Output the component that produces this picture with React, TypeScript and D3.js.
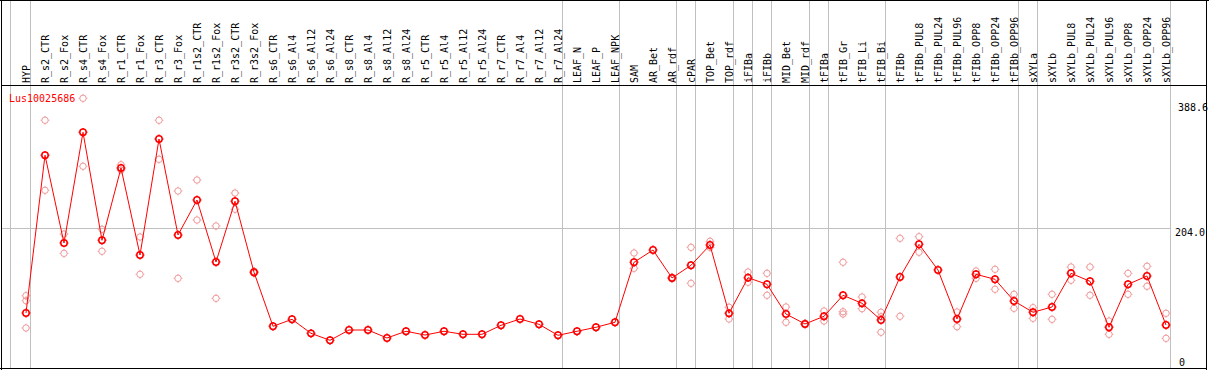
import React from "react";
import * as d3 from "d3";

const categories = [
  "HYP", "R_s2_CTR", "R_s2_Fox", "R_s4_CTR", "R_s4_Fox", "R_r1_CTR", "R_r1_Fox", "R_r3_CTR", "R_r3_Fox",
  "R_r1s2_CTR", "R_r1s2_Fox", "R_r3s2_CTR", "R_r3s2_Fox", "R_s6_CTR", "R_s6_Al4", "R_s6_Al12", "R_s6_Al24",
  "R_s8_CTR", "R_s8_Al4", "R_s8_Al12", "R_s8_Al24", "R_r5_CTR", "R_r5_Al4", "R_r5_Al12", "R_r5_Al24",
  "R_r7_CTR", "R_r7_Al4", "R_r7_Al12", "R_r7_Al24", "LEAF_N", "LEAF_P", "LEAF_NPK", "SAM", "AR_Bet", "AR_rdf",
  "cPAR", "TOP_Bet", "TOP_rdf", "iFIBa", "iFIBb", "MID_Bet", "MID_rdf", "tFIBa", "tFIB_Gr", "tFIB_Li", "tFIB_Bi",
  "tFIBb", "tFIBb_PUL8", "tFIBb_PUL24", "tFIBb_PUL96", "tFIBb_OPP8", "tFIBb_OPP24", "tFIBb_OPP96", "sXYLa",
  "sXYLb", "sXYLb_PUL8", "sXYLb_PUL24", "sXYLb_PUL96", "sXYLb_OPP8", "sXYLb_OPP24", "sXYLb_OPP96",
];

const meanValues = [
  83.8, 307.7, 183.2, 340.3, 187.0, 289.6, 166.1, 330.8, 194.5,
  244.2, 156.2, 242.4, 141.6, 64.9, 74.8, 54.9, 45.0,
  59.6, 59.6, 48.3, 57.8, 52.5, 57.8, 53.5, 53.5,
  66.3, 75.2, 67.7, 52.1, 57.8, 63.5, 70.6, 155.8, 173.2, 133.5,
  151.5, 180.3, 83.3, 133.9, 124.5, 82.3, 68.2, 79.1, 108.9, 97.5, 73.8,
  134.9, 181.3, 144.8, 75.2, 138.7, 131.6, 100.8, 84.8,
  92.3, 140.1, 128.8, 63.5, 124.5, 136.3, 66.7,
];

const replicates: number[][] = [
  [108.3, 101.2, 62.5], [357.4, 258.0], [195.9, 168.5], [388.6, 292.1], [202.6, 171.4], [294.3, 286.8], [191.7, 138.7], [357.4, 302.0], [257.0, 133.0],
  [272.6, 215.8], [207.3, 104.6], [254.1, 231.0], [143.0, 140.2], [], [], [], [],
  [], [], [], [], [], [], [], [],
  [], [], [], [], [], [], [], [169.0, 147.2], [], [134.5, 132.5],
  [177.0, 125.9], [185.6, 177.0], [91.9, 75.2], [142.0, 127.4], [140.1, 108.9], [92.3, 70.6], [68.9, 67.5], [86.6, 72.4], [155.8, 85.6, 82.3], [106.5, 89.9], [84.8, 56.4, 78.5],
  [189.8, 79.1], [192.1, 170.0], [], [85.2, 64.3], [143.4, 133.0], [145.8, 117.4], [110.3, 90.4], [91.3, 76.2],
  [110.3, 74.8], [149.1, 130.2], [149.1, 108.9], [72.4, 53.5], [140.1, 110.3], [150.1, 121.7], [83.3, 47.8],
];

const groupEnds = [0, 28, 31, 34, 35, 37, 38, 39, 41, 42, 45, 52, 53, 60];
const tickValues = [388.6, 204.0, 0];
const tickLabels = ["388.6", "204.0", "0"];
const seriesName = "Lus10025686";

const W = 1209;
const H = 370;
const FONT = "'DejaVu Sans Mono', monospace";

function Marker({ cx, cy, color, sw }: { cx: number; cy: number; color: string; sw: number }) {
  const r = 3.2;
  const t = 4.4;
  return (
    <g stroke={color} strokeWidth={sw} fill="none">
      <circle cx={cx} cy={cy} r={r} />
      <line x1={cx} y1={cy - r} x2={cx} y2={cy - t} />
      <line x1={cx} y1={cy + r} x2={cx} y2={cy + t} />
      <line x1={cx - r} y1={cy} x2={cx - t} y2={cy} />
      <line x1={cx + r} y1={cy} x2={cx + t} y2={cy} />
    </g>
  );
}

export default function App() {
  const x = d3.scaleLinear().domain([0, categories.length - 1]).range([26, 26 + 19 * (categories.length - 1)]);
  const y = d3.scaleLinear().domain([0, 388.6]).range([372, 98.3]);
  const line = d3
    .line<number>()
    .x((_, i) => x(i))
    .y((d) => y(d));

  const gridY = Math.round(y(204.0)) + 0.5;
  const labelX = [1178, 1175, 1179];

  return (
    <svg
      width={W}
      height={H}
      style={{ position: "absolute", left: 0, top: 0, background: "#fff" }}
      fontFamily={FONT}
      fontSize={10}
    >
      <rect x={0} y={0} width={W} height={H} fill="#fff" />
      <line x1={x(0) - 15.5} x2={x(0) - 15.5} y1={0} y2={369} stroke="#c0c0c0" />
      {groupEnds.map((g) => (
        <line key={g} x1={x(g) + 4.5} x2={x(g) + 4.5} y1={0} y2={369} stroke="#c0c0c0" />
      ))}
      <line x1={1} x2={x(categories.length - 1) + 4.5} y1={gridY} y2={gridY} stroke="#c0c0c0" />

      <line x1={1.5} x2={1.5} y1={0} y2={370} stroke="#000" />
      <line x1={0} x2={W} y1={0.5} y2={0.5} stroke="#000" />
      <line x1={1} x2={1207} y1={85.5} y2={85.5} stroke="#000" />
      <line x1={1206.5} x2={1206.5} y1={0} y2={370} stroke="#000" />
      <line x1={0} x2={1207} y1={368.5} y2={368.5} stroke="#000" />

      {categories.map((c, i) => (
        <text key={c} transform={`translate(${x(i) + 4},83) rotate(-90)`} fill="#000">
          {c}
        </text>
      ))}

      {tickValues.map((v, i) => {
        const yy = Math.min(Math.max(y(v) + 8, 111), 366);
        return (
          <text key={i} x={labelX[i]} y={yy} fill="#000">
            {tickLabels[i]}
          </text>
        );
      })}

      <text x={9} y={101.5} fill="#ff0000">
        {seriesName}
      </text>

      {replicates.map((reps, i) =>
        reps.map((v, j) => <Marker key={`${i}-${j}`} cx={x(i)} cy={y(v)} color="#f09a9a" sw={1} />)
      )}

      <path d={line(meanValues) || ""} fill="none" stroke="#ff0000" strokeWidth={1} />
      {meanValues.map((v, i) => (
        <Marker key={i} cx={x(i)} cy={y(v)} color="#ff0000" sw={1.5} />
      ))}
    </svg>
  );
}
